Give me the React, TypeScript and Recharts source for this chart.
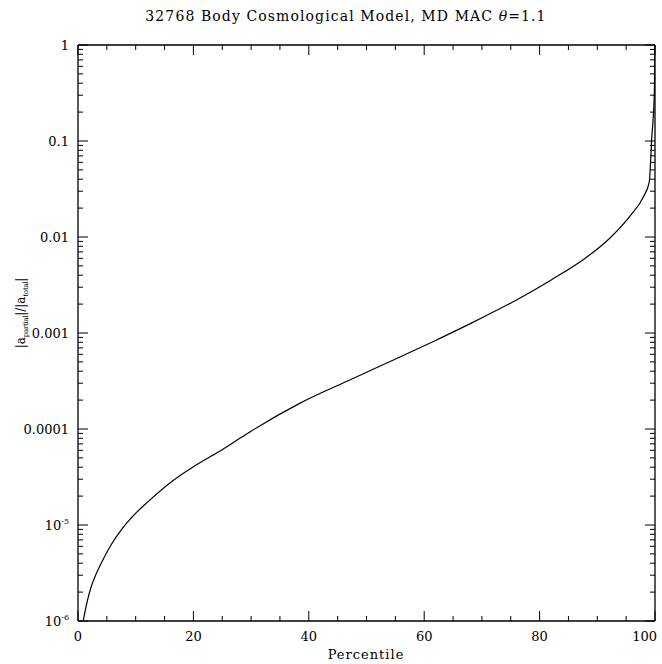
import React from "react";
import { LineChart, Line, XAxis, YAxis } from "recharts";

const percentile = [0.9, 1.5, 2.3, 3.0, 4.0, 5.8, 7.5, 9.8, 12.1, 16.2, 20.2, 24.3, 27.2, 29.8, 38.5, 47.1, 55.8, 61.6, 67.9, 70.2, 76.0, 81.8, 87.6, 92.2, 95.7, 98.0, 99.0, 99.25, 99.4, 99.7, 99.9, 100];
const ratio = [1.0e-6, 1.51e-6, 2.29e-6, 2.95e-6, 3.98e-6, 6.31e-6, 8.91e-6, 1.29e-5, 1.74e-5, 2.82e-5, 4.12e-5, 5.75e-5, 7.41e-5, 9.33e-5, 1.86e-4, 3.24e-4, 5.62e-4, 8.17e-4, 1.245e-3, 1.46e-3, 2.21e-3, 3.51e-3, 5.82e-3, 9.77e-3, 0.0166, 0.0263, 0.0372, 0.063, 0.1, 0.178, 0.355, 1.0];

const xTicks = [0, 5, 10, 15, 20, 25, 30, 35, 40, 45, 50, 55, 60, 65, 70, 75, 80, 85, 90, 95, 100];
const xMajor = [0, 20, 40, 60, 80, 100];
const yMajor = [1e-6, 1e-5, 1e-4, 1e-3, 1e-2, 1e-1, 1];
const yLabelMain = ["10", "10", "0.0001", "0.001", "0.01", "0.1", "1"];
const yLabelExp = ["-6", "-5", "", "", "", "", ""];
const yTicks: number[] = [];
yMajor.slice(0, 6).forEach((d) => {
  for (let m = 1; m < 10; m++) yTicks.push(+(d * m).toPrecision(3));
});
yTicks.push(1);

const data = percentile.map((p, i) => ({ p, r: ratio[i] }));
const FONT = "DejaVu Serif";

const majorIndexY = (v: number) => yMajor.findIndex((m) => Math.abs(v / m - 1) < 1e-6);

const XTick = (side: "bottom" | "top") => (props: any) => {
  const { x, y, payload } = props;
  const v = payload.value;
  const major = xMajor.includes(v);
  const len = major ? 10 : 5;
  const dir = side === "bottom" ? -1 : 1;
  const last = v === 100;
  return (
    <g>
      <line x1={x} x2={x} y1={y} y2={y + dir * len} stroke="#000" strokeWidth={1} />
      {side === "bottom" && major ? (
        <text
          x={last ? x + 2 : x}
          y={y + 20}
          textAnchor={last ? "end" : "middle"}
          fontFamily={FONT}
          fontSize={13}
          fill="#000"
        >
          {v}
        </text>
      ) : null}
    </g>
  );
};

const YTick = (side: "left" | "right") => (props: any) => {
  const { x, y, payload } = props;
  const v = payload.value;
  const idx = majorIndexY(v);
  const major = idx >= 0;
  const len = major ? 10 : 5;
  const dir = side === "left" ? 1 : -1;
  const showLabel = major && side === "left";
  return (
    <g>
      <line x1={x} x2={x + dir * len} y1={y} y2={y} stroke="#000" strokeWidth={1} />
      {showLabel ? (
        <text x={x - 9} y={y + 5} textAnchor="end" fontFamily={FONT} fontSize={13} fill="#000">
          {yLabelMain[idx]}
          {yLabelExp[idx] ? (
            <tspan dy={-6} fontSize={8}>
              {yLabelExp[idx]}
            </tspan>
          ) : null}
        </text>
      ) : null}
    </g>
  );
};

export default function App() {
  return (
    <div style={{ position: "absolute", left: 0, top: 0, width: 662, height: 664, background: "#fff" }}>
      <LineChart width={662} height={664} data={data} margin={{ top: 0, right: 0, bottom: 0, left: 0 }}>
        <XAxis
          xAxisId="bottom"
          dataKey="p"
          type="number"
          domain={[0, 100]}
          ticks={xTicks}
          interval={0}
          height={43}
          tickSize={0}
          tickMargin={0}
          tickLine={false}
          axisLine={{ stroke: "#000", strokeWidth: 1.3 }}
          tick={XTick("bottom")}
          allowDataOverflow
        />
        <XAxis
          xAxisId="top"
          orientation="top"
          type="number"
          dataKey="p"
          domain={[0, 100]}
          ticks={xTicks}
          interval={0}
          height={45}
          tickSize={0}
          tickMargin={0}
          tickLine={false}
          axisLine={{ stroke: "#000", strokeWidth: 1.3 }}
          tick={XTick("top")}
          allowDataOverflow
        />
        <YAxis
          yAxisId="left"
          dataKey="r"
          type="number"
          scale="log"
          domain={[1e-6, 1]}
          ticks={yTicks}
          interval={0}
          width={78}
          tickSize={0}
          tickMargin={0}
          tickLine={false}
          axisLine={{ stroke: "#000", strokeWidth: 1.3 }}
          tick={YTick("left")}
          allowDataOverflow
        />
        <YAxis
          yAxisId="right"
          orientation="right"
          dataKey="r"
          type="number"
          scale="log"
          domain={[1e-6, 1]}
          ticks={yTicks}
          interval={0}
          width={7}
          tickSize={0}
          tickMargin={0}
          tickLine={false}
          axisLine={{ stroke: "#000", strokeWidth: 1.3 }}
          tick={YTick("right")}
          allowDataOverflow
        />
        <Line
          xAxisId="bottom"
          yAxisId="left"
          dataKey="r"
          type="monotone"
          stroke="#000"
          strokeWidth={1.2}
          dot={false}
          isAnimationActive={false}
        />
      </LineChart>
      <svg width={662} height={664} style={{ position: "absolute", left: 0, top: 0, pointerEvents: "none" }}>
        <text x={346} y={21} textAnchor="middle" fontFamily={FONT} fontSize={14} letterSpacing={1.1} fill="#000">
          32768 Body Cosmological Model, MD MAC <tspan fontStyle="italic">θ</tspan>=1.1
        </text>
        <text x={366} y={659} textAnchor="middle" fontFamily={FONT} fontSize={13} letterSpacing={1} fill="#000">
          Percentile
        </text>
        <text transform="translate(25,313) rotate(-90)" textAnchor="middle" fontFamily={FONT} fontSize={12} fill="#000">
          |a<tspan dy={3} fontSize={7} letterSpacing={-0.3}>partial</tspan>
          <tspan dy={-3}>|/|a</tspan>
          <tspan dy={3} fontSize={7} letterSpacing={-0.3}>total</tspan>
          <tspan dy={-3}>|</tspan>
        </text>
      </svg>
    </div>
  );
}
